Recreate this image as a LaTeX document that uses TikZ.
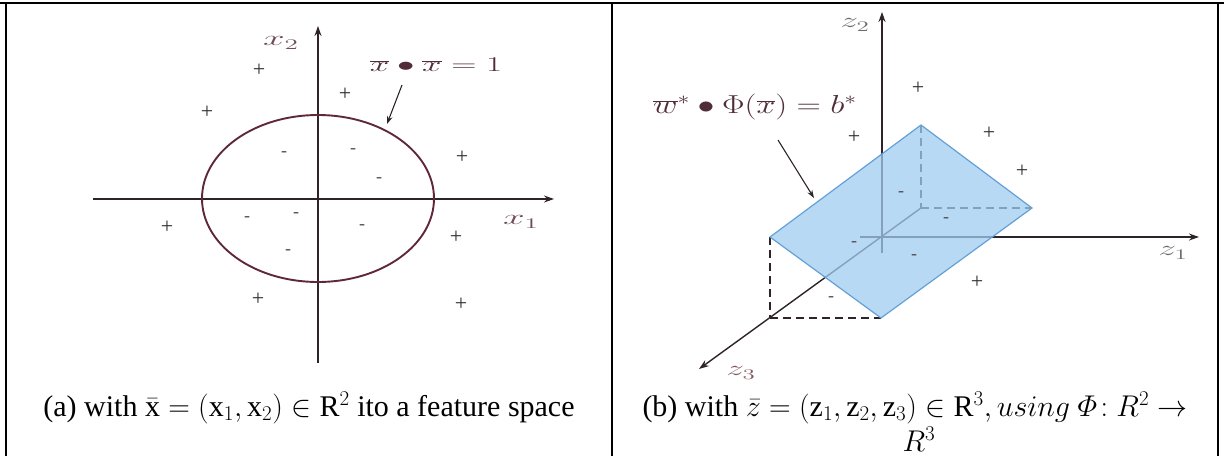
\RequirePackage{fix-cm}
\documentclass[tikz,border=0pt]{standalone}
\usepackage{fontspec}
\setmainfont{Liberation Serif}
\usetikzlibrary{arrows.meta}
\definecolor{axisc}{RGB}{45,35,40}
\definecolor{ellc}{RGB}{95,40,55}
\definecolor{labc}{RGB}{110,75,90}
\definecolor{zlab}{RGB}{110,105,110}
\definecolor{eqc}{RGB}{80,45,55}
\definecolor{planefill}{RGB}{160,204,240}
\definecolor{planeedge}{RGB}{100,160,215}
\definecolor{signc}{RGB}{50,45,50}
\tikzset{
  frame/.style={line width=1.6pt, black},
  axis/.style={line width=1.4pt, axisc, -{Stealth[length=10pt,width=7pt]}},
  pointer/.style={line width=1.1pt, axisc, -{Stealth[length=8pt,width=5.5pt]}},
  dsh/.style={line width=1.2pt, axisc, dash pattern=on 8pt off 5pt},
  plussign/.style={inner sep=0pt, text=signc, font=\fontsize{22}{22}\selectfont},
  minussign/.style={inner sep=0pt, text=signc!85, font=\fontsize{18}{18}\selectfont},
  axlab/.style={inner sep=0pt, font=\fontsize{21}{21}\selectfont},
  captxt/.style={inner sep=0pt, anchor=base, font=\fontsize{30}{34}\selectfont, text=black}
}
\begin{document}
\begin{tikzpicture}[x=1pt,y=1pt]
\path[use as bounding box] (0,0) rectangle (1224,-456);
% table frame
\draw[frame] (0,-3) -- (1224,-3);
\draw[frame] (6,-3) -- (6,-456);
\draw[frame] (612,-3) -- (612,-456);
\draw[frame] (1218,-3) -- (1218,-456);

% ---------------- panel (a) ----------------
\coordinate (ax0) at (93,-199);
\coordinate (ax1) at (554,-199);
\coordinate (ay0) at (318,-363);
\coordinate (ay1) at (318,-26);
\draw[axis] (ax0) -- (ax1);
\draw[axis] (ay0) -- (ay1);
\draw[line width=1.9pt, ellc] (318,-198.5) ellipse [x radius=116, y radius=83.5];
\node[axlab, text=labc] (lx2) at (281,-43) {\scalebox{1.85}[1]{$x_2$}};
\node[axlab, text=labc] (lx1) at (521,-222) {\scalebox{1.85}[1]{$x_1$}};
\node[axlab, text=eqc] (leq) at (436,-65) {\scalebox{1.66}[1]{$\overline{x}\bullet\overline{x}=1$}};
\coordinate (pa0) at (402,-85);
\coordinate (pa1) at (387,-124);
\draw[pointer] (pa0) -- (pa1);
\foreach \px/\py [count=\i] in {259/70,207/112,345/94,462/157,167/227,456/237,258/299,461/304}
  \node[plussign] (ap\i) at (\px,-\py) {+};
\foreach \px/\py [count=\i] in {284/154,353/151,379/180,247/219,296/215,362/227,288/252}
  \node[minussign] (am\i) at (\px,-\py) {-};
\node[captxt] (capa) at (309,-416) {(a) with $\bar{\mathrm{x}} = (\mathrm{x}_1, \mathrm{x}_2) \in \mathrm{R}^2$ ito a feature space};

% ---------------- panel (b) ----------------
\coordinate (O) at (882,-237);
\coordinate (z2a) at (882,-253);
\coordinate (z2b) at (882,-12);
\coordinate (z1a) at (860,-237);
\coordinate (z1b) at (1199,-237);
\coordinate (Bk) at (921,-208);
\coordinate (z3b) at (699,-369);
\coordinate (L) at (770,-237);
\coordinate (T) at (921,-125);
\coordinate (R) at (1032,-208);
\coordinate (Bt) at (881,-318);
\coordinate (P) at (770,-318);
\draw[axis] (z2a) -- (z2b);
\draw[axis] (z1a) -- (z1b);
\draw[axis] (Bk) -- (z3b);
\draw[dsh] (T) -- (Bk);
\draw[dsh] (Bk) -- (R);
\draw[dsh] (L) -- (P);
\draw[dsh] (P) -- (Bt);
\filldraw[fill=planefill, fill opacity=0.75, draw=planeedge, line width=1.2pt] (L) -- (T) -- (R) -- (Bt) -- cycle;
\node[axlab, text=zlab] (lz2) at (855,-25) {\scalebox{1.7}[1]{$z_2$}};
\node[axlab, text=zlab] (lz1) at (1173,-253) {\scalebox{1.7}[1]{$z_1$}};
\node[axlab, text=zlab!85!red] (lz3) at (741,-373) {\scalebox{1.7}[1]{$z_3$}};
\node[inner sep=0pt, font=\fontsize{26}{26}\selectfont, text=eqc] (lweq) at (755,-107) {\scalebox{1.3}[1]{$\overline{w}^{*}\bullet\Phi(\overline{x})=b^{*}$}};
\coordinate (pb0) at (778,-140);
\coordinate (pb1) at (814,-198);
\draw[pointer] (pb0) -- (pb1);
\foreach \px/\py [count=\i] in {918/88,854/137,989/133,1022/171,977/282}
  \node[plussign] (bp\i) at (\px,-\py) {+};
\foreach \px/\py [count=\i] in {901/194,946/220,854/244,914/257,831/299}
  \node[minussign] (bm\i) at (\px,-\py) {-};
\node[captxt] (capb1) at (915,-416) {(b) with $\bar{z} = (\mathrm{z}_1, \mathrm{z}_2, \mathrm{z}_3) \in \mathrm{R}^3, using\ \mathnormal{\Phi}\!: R^2 \rightarrow$};
\node[captxt] (capb2) at (919,-451) {$R^3$};
\end{tikzpicture}
\end{document}
